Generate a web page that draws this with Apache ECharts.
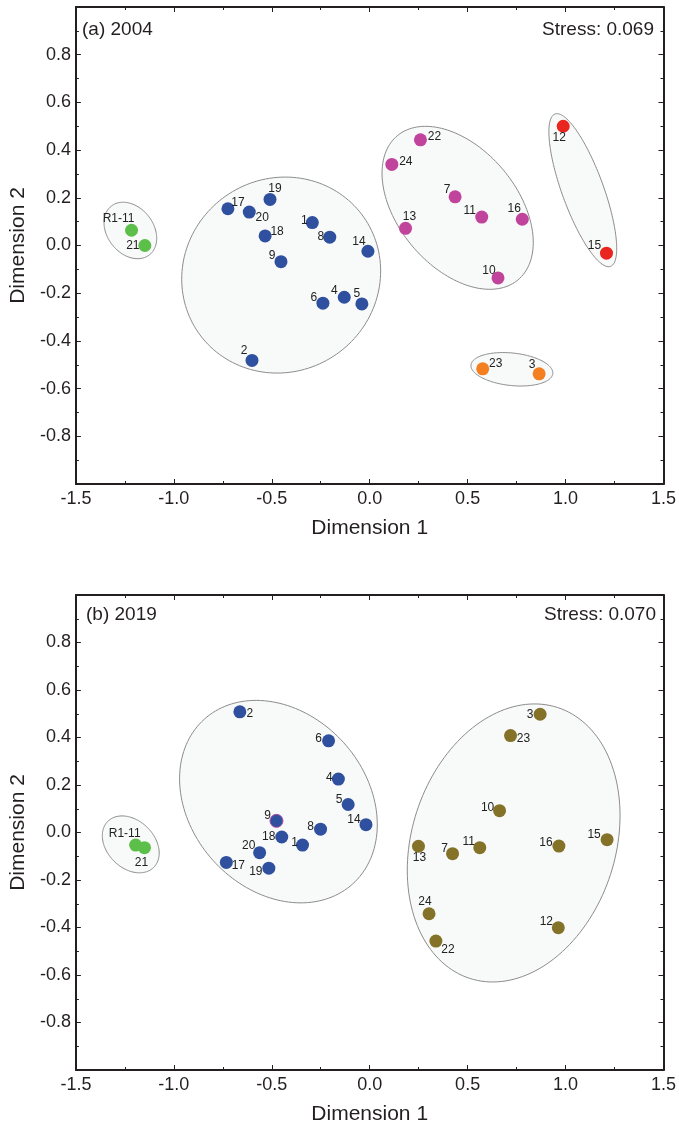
<!DOCTYPE html>
<html>
<head>
<meta charset="utf-8">
<script src="https://cdn.jsdelivr.net/npm/echarts@6/dist/echarts.min.js"></script>
<style>
html,body{margin:0;padding:0;background:#fff;}
#chart{width:679px;height:1126px;}
</style>
</head>
<body>
<div id="chart"></div>
<script>
// ---------- Data ----------
// Panel (a) 2004
const idsA    = ['R1-11','21','17','20','19','18','1','8','9','14','6','4','5','2','22','24','7','11','16','13','10','12','15','23','3'];
const groupA  = ['g','g','b','b','b','b','b','b','b','b','b','b','b','b','m','m','m','m','m','m','m','r','r','o','o'];
const dim1A   = [-1.216,-1.148,-0.724,-0.615,-0.509,-0.534,-0.293,-0.204,-0.453,-0.009,-0.239,-0.130,-0.040,-0.601,0.259,0.113,0.436,0.572,0.779,0.183,0.655,0.988,1.209,0.577,0.865];
const dim2A   = [0.064,0.000,0.154,0.140,0.193,0.040,0.096,0.035,-0.068,-0.024,-0.242,-0.217,-0.245,-0.482,0.443,0.340,0.204,0.119,0.110,0.072,-0.136,0.500,-0.032,-0.517,-0.538];

// Panel (b) 2019
const idsB    = ['R1-11','21','2','6','4','5','14','9','18','1','8','20','17','19','3','23','10','13','7','11','16','15','24','22','12'];
const groupB  = ['g','g','b','b','b','b','b','b','b','b','b','b','b','b','y','y','y','y','y','y','y','y','y','y','y'];
const dim1B   = [-1.195,-1.150,-0.663,-0.210,-0.160,-0.110,-0.019,-0.476,-0.449,-0.343,-0.251,-0.562,-0.732,-0.515,0.870,0.719,0.663,0.249,0.423,0.562,0.966,1.212,0.303,0.338,0.963];
const dim2B   = [-0.053,-0.064,0.508,0.386,0.225,0.118,0.033,0.049,-0.019,-0.053,0.014,-0.085,-0.126,-0.150,0.498,0.408,0.092,-0.058,-0.089,-0.064,-0.057,-0.030,-0.342,-0.457,-0.401];

// Cluster ellipses: [centre dim1, centre dim2, semi-major, semi-minor (dim1 units), angle deg]
const ellCx_A = [-1.222,-0.452,0.449,1.088,0.726];
const ellCy_A = [0.063,-0.124,0.158,0.232,-0.519];
const ellRa_A = [0.158,0.515,0.480,0.414,0.210];
const ellRb_A = [0.118,0.493,0.303,0.106,0.083];
const ellAng_A = [52,-35,50,70,6];

const ellCx_B = [-1.220,-0.466,0.735];
const ellCy_B = [-0.050,0.130,-0.044];
const ellRa_B = [0.166,0.566,0.727];
const ellRb_B = [0.121,0.449,0.520];
const ellAng_B = [45,48,-72];

const xTicks = [-1.5,-1.0,-0.5,0.0,0.5,1.0,1.5];
const yTicks = [-0.8,-0.6,-0.4,-0.2,0.0,0.2,0.4,0.6,0.8];

// ---------- Styling / label placement (not data) ----------
const labelOffA = [[-13,-12],[-12,0],[10,-6],[13,6],[5,-11],[12,-4],[-8,-2],[-9,0],[-9,-6],[-9,-10],[-9,-6],[-10,-7],[-5,-10],[-8,-10],[14,-3],[14,-3],[-8,-7],[-12,-6],[-8,-11],[4,-12],[-9,-7],[-4,11],[-12,-7],[13,-5],[-7,-9]];
const labelOffB = [[-11,-11],[-3,15],[10,2],[-10,-2],[-9,-1],[-9,-5],[-12,-5],[-9,-5],[-13,0],[-8,-2],[-10,-2],[-11,-7],[12,3],[-13,4],[-10,0],[13,3],[-12,-3],[1,11],[-8,-5],[-11,-6],[-13,-3],[-13,-5],[-4,-12],[12,9],[-12,-6]];

const colors = {g:'#5cbf4a', b:'#2f4f9f', m:'#c0449c', r:'#e9251f', o:'#f47f20', y:'#847228'};
const FONT = '"Liberation Sans", Arial, Helvetica, sans-serif';
const AX = '#231f20';

function renderEllipse(params, api) {
  const c = api.coord([api.value(0), api.value(1)]);
  const unit = api.size([1, 0])[0];
  const a = api.value(2) * unit, b = api.value(3) * unit;
  const t = api.value(4) * Math.PI / 180;
  const pts = [];
  const N = 160;
  for (let i = 0; i < N; i++) {
    const p = 2 * Math.PI * i / N;
    const ex = a * Math.cos(p), ey = b * Math.sin(p);
    pts.push([c[0] + ex * Math.cos(t) - ey * Math.sin(t), c[1] + ex * Math.sin(t) + ey * Math.cos(t)]);
  }
  return {type: 'polygon', shape: {points: pts}, style: {fill: '#f8f9f9', stroke: '#8c8c8c', lineWidth: 1}};
}

function ellipseSeries(cx, cy, ra, rb, ang, idx) {
  return {
    type: 'custom', xAxisIndex: idx * 2, yAxisIndex: idx * 2, z: 1,
    renderItem: renderEllipse, clip: false, silent: true,
    encode: {x: 0, y: 1},
    data: cx.map((v, i) => [v, cy[i], ra[i], rb[i], ang[i]])
  };
}

function pointSeries(ids, groups, d1, d2, offs, idx, special) {
  const keys = [...new Set(groups)];
  return keys.map(k => ({
    type: 'scatter', xAxisIndex: idx * 2, yAxisIndex: idx * 2, z: 5,
    symbolSize: 13,
    itemStyle: {color: colors[k], opacity: 1},
    label: {show: true, position: 'inside', formatter: '{b}', color: '#222', fontSize: 12, fontFamily: FONT},
    data: ids.map((id, i) => ({i, id})).filter(o => groups[o.i] === k).map(o => {
      const item = {name: o.id, value: [d1[o.i], d2[o.i]], label: {offset: offs[o.i]}};
      if (special && special[o.id]) item.itemStyle = special[o.id];
      return item;
    })
  }));
}

const grids = [
  {left: 72, top: 7, width: 593, height: 477},
  {left: 74, top: 595, width: 594, height: 477}
];

function xAxes(gi) {
  const common = {
    gridIndex: gi, type: 'value', min: xTicks[0], max: xTicks[xTicks.length - 1], interval: 0.5,
    axisLine: {show: true, onZero: false, lineStyle: {color: AX, width: 2}},
    axisTick: {show: true, inside: true, length: 5, lineStyle: {color: AX, width: 1}},
    minorTick: {show: true, splitNumber: 2, length: 3, lineStyle: {color: AX, width: 1}},
    splitLine: {show: false}
  };
  return [
    Object.assign({}, common, {
      position: 'bottom',
      name: 'Dimension 1', nameLocation: 'middle', nameGap: 34,
      nameTextStyle: {fontSize: 21, color: AX, fontFamily: FONT},
      axisLabel: {show: true, margin: 6, fontSize: 18, color: AX, fontFamily: FONT,
        formatter: v => (Math.abs(v) < 1e-9 ? '0.0' : v.toFixed(1))}
    }),
    Object.assign({}, common, {position: 'top', axisLabel: {show: false}})
  ];
}
function yAxes(gi) {
  const common = {
    gridIndex: gi, type: 'value', min: -1, max: 1, interval: 0.2,
    axisLine: {show: true, onZero: false, lineStyle: {color: AX, width: 2}},
    axisTick: {show: true, inside: true, length: 5, lineStyle: {color: AX, width: 1}},
    minorTick: {show: true, splitNumber: 2, length: 3, lineStyle: {color: AX, width: 1}},
    splitLine: {show: false}
  };
  return [
    Object.assign({}, common, {
      position: 'left',
      name: 'Dimension 2', nameLocation: 'middle', nameGap: 46,
      nameTextStyle: {fontSize: 21, color: AX, fontFamily: FONT},
      axisLabel: {show: true, margin: 5, fontSize: 18, color: AX, fontFamily: FONT,
        formatter: v => {
          if (Math.abs(v) > 0.95) return '';
          if (Math.abs(v) < 1e-9) return '0.0';
          return yTicks.includes(+v.toFixed(1)) ? v.toFixed(1) : '';
        }}
    }),
    Object.assign({}, common, {position: 'right', axisLabel: {show: false}})
  ];
}

const chart = echarts.init(document.getElementById('chart'), null, {renderer: 'canvas'});
chart.setOption({
  animation: false,
  backgroundColor: '#fff',
  grid: grids,
  xAxis: [...xAxes(0), ...xAxes(1)],
  yAxis: [...yAxes(0), ...yAxes(1)],
  graphic: [
    {type: 'text', x: 82, y: 30, style: {text: '(a) 2004', font: '19px ' + FONT, fill: AX, align: 'left', verticalAlign: 'middle'}},
    {type: 'text', x: 654, y: 30, style: {text: 'Stress: 0.069', font: '19px ' + FONT, fill: AX, align: 'right', verticalAlign: 'middle'}},
    {type: 'text', x: 86, y: 615, style: {text: '(b) 2019', font: '19px ' + FONT, fill: AX, align: 'left', verticalAlign: 'middle'}},
    {type: 'text', x: 656, y: 615, style: {text: 'Stress: 0.070', font: '19px ' + FONT, fill: AX, align: 'right', verticalAlign: 'middle'}}
  ],
  series: [
    ellipseSeries(ellCx_A, ellCy_A, ellRa_A, ellRb_A, ellAng_A, 0),
    ellipseSeries(ellCx_B, ellCy_B, ellRa_B, ellRb_B, ellAng_B, 1),
    ...pointSeries(idsA, groupA, dim1A, dim2A, labelOffA, 0),
    ...pointSeries(idsB, groupB, dim1B, dim2B, labelOffB, 1, {'9': {borderColor: '#b04aa0', borderWidth: 1}})
  ]
});
</script>
</body>
</html>
